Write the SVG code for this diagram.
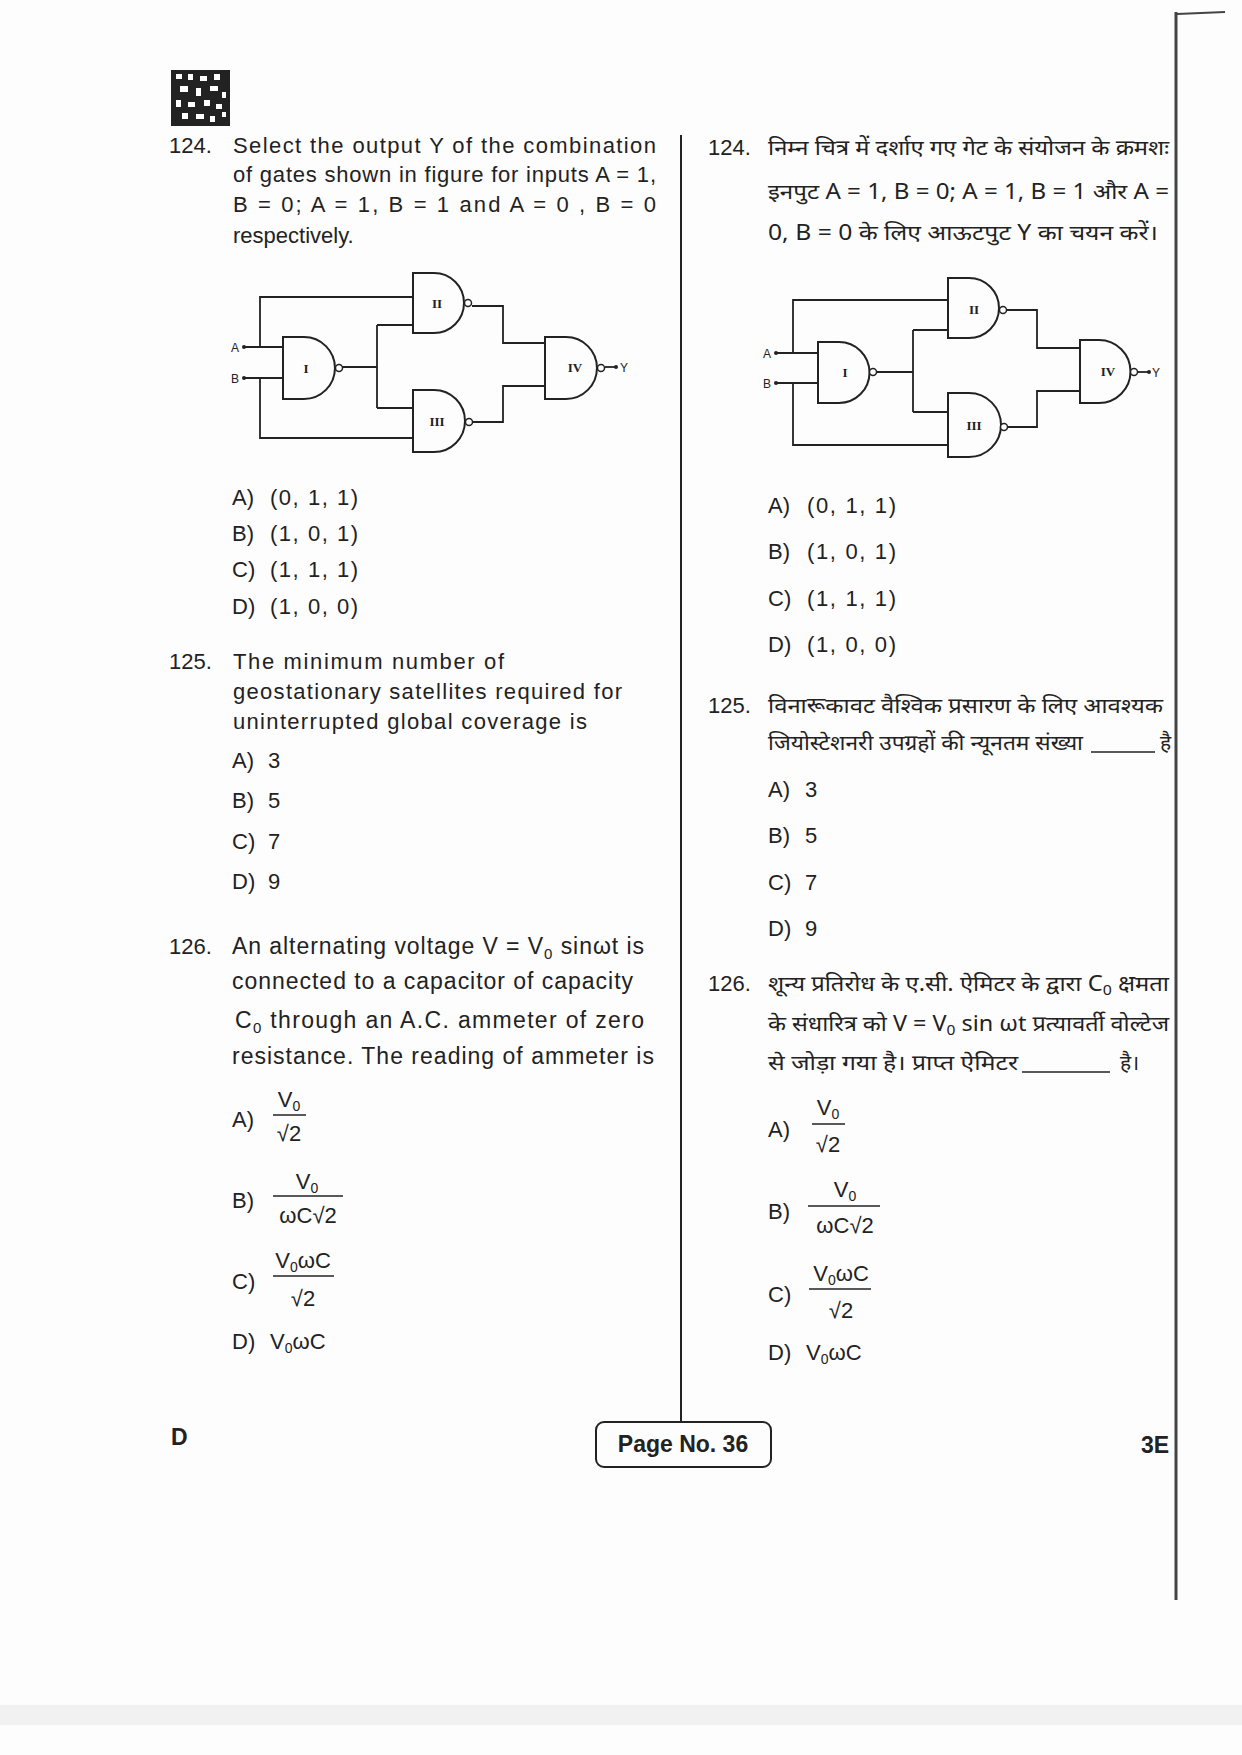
<svg xmlns="http://www.w3.org/2000/svg" width="1242" height="1755" viewBox="0 0 1242 1755">
<style>
text{font-family:"Liberation Sans",Arial,"Noto Sans",sans-serif;fill:#222;font-size:22px}
.hi{font-family:"Noto Sans","Noto Sans Devanagari","Liberation Sans",sans-serif;font-size:21px}
.sm{font-size:12px}
.rn{font-family:"Liberation Serif",serif;font-size:13px;font-weight:bold}
.g{fill:none;stroke:#222;stroke-width:2}
.w{fill:none;stroke:#222;stroke-width:1.8}
.b{fill:#fff;stroke:#222;stroke-width:1.5}
.fl{stroke:#222;stroke-width:1.5}
.bold{font-weight:bold}
</style>
<rect width="1242" height="1755" fill="#fdfdfd"/>
<rect x="0" y="1705" width="1242" height="20" fill="#f1f1f1"/>
<g id="qr" fill="#222">
<rect x="171" y="70" width="59" height="56" fill="#222"/>
<rect x="176" y="74" width="6" height="5" fill="#fff"/><rect x="188" y="74" width="5" height="6" fill="#fff"/><rect x="200" y="76" width="7" height="5" fill="#fff"/><rect x="214" y="74" width="6" height="6" fill="#fff"/>
<rect x="180" y="86" width="8" height="6" fill="#fff"/><rect x="196" y="88" width="5" height="8" fill="#fff"/><rect x="210" y="86" width="8" height="5" fill="#fff"/><rect x="222" y="92" width="4" height="6" fill="#fff"/>
<rect x="176" y="100" width="5" height="7" fill="#fff"/><rect x="188" y="102" width="7" height="5" fill="#fff"/><rect x="204" y="100" width="6" height="6" fill="#fff"/><rect x="216" y="104" width="6" height="5" fill="#fff"/>
<rect x="182" y="113" width="6" height="6" fill="#fff"/><rect x="196" y="114" width="8" height="5" fill="#fff"/><rect x="210" y="116" width="5" height="6" fill="#fff"/><rect x="222" y="112" width="4" height="5" fill="#fff"/>
</g>
<line x1="681" y1="135" x2="681" y2="1422" stroke="#222" stroke-width="2"/>
<line x1="1176" y1="12" x2="1176" y2="1600" stroke="#444" stroke-width="3"/>
<line x1="1177" y1="14" x2="1225" y2="12" stroke="#444" stroke-width="2"/>
<g id="q124-en">
<text x="169" y="153">124.</text>
<text x="233" y="153" textLength="423" lengthAdjust="spacing">Select the output Y of the combination</text>
<text x="233" y="182" textLength="423" lengthAdjust="spacing">of gates shown in figure for inputs A = 1,</text>
<text x="233" y="212" textLength="423" lengthAdjust="spacing">B = 0; A = 1, B = 1 and A = 0 , B = 0</text>
<text x="233" y="243">respectively.</text>
</g>
<g id="gates-left">
<g id="L-wires" class="w">
<path d="M244 347H283M260 347V297H413M244 378H283M260 378V438H413"/>
<path d="M342 367H377M377 325V408M377 325H413M377 408H413"/>
<path d="M472 306H503V343H545M472 422H503V386H545"/>
<path d="M605 367H615"/>
</g>
<circle cx="244" cy="347" r="2" fill="#222"/><circle cx="244" cy="378" r="2" fill="#222"/><circle cx="616" cy="367" r="2" fill="#222"/>
<text class="sm" x="231" y="352">A</text><text class="sm" x="231" y="383">B</text><text class="sm" x="620" y="372">Y</text>
<g id="L-I"><path class="g" d="M283 337H304A31 31 0 0 1 304 399H283Z"/><circle class="b" cx="339" cy="368" r="3.5"/><text class="rn" x="306" y="373" text-anchor="middle">I</text></g>
<g id="L-II"><path class="g" d="M413 273H434A30 30 0 0 1 434 333H413Z"/><circle class="b" cx="468" cy="303" r="3.5"/><text class="rn" x="437" y="308" text-anchor="middle">II</text></g>
<g id="L-III"><path class="g" d="M413 390H434A31 31 0 0 1 434 452H413Z"/><circle class="b" cx="469" cy="422" r="3.5"/><text class="rn" x="437" y="426" text-anchor="middle">III</text></g>
<g id="L-IV"><path class="g" d="M545 337H566A31 31 0 0 1 566 399H545Z"/><circle class="b" cx="601" cy="368" r="3.5"/><text class="rn" x="575" y="372" text-anchor="middle">IV</text></g>
</g>
<g id="opts124-en">
<text x="232" y="505">A)</text><text x="270" y="505" textLength="88" lengthAdjust="spacing">(0, 1, 1)</text>
<text x="232" y="541">B)</text><text x="270" y="541" textLength="88" lengthAdjust="spacing">(1, 0, 1)</text>
<text x="232" y="577">C)</text><text x="270" y="577" textLength="88" lengthAdjust="spacing">(1, 1, 1)</text>
<text x="232" y="614">D)</text><text x="270" y="614" textLength="88" lengthAdjust="spacing">(1, 0, 0)</text>
</g>
<g id="q125-en">
<text x="169" y="669">125.</text>
<text x="233" y="669" textLength="271" lengthAdjust="spacing">The minimum number of</text>
<text x="233" y="699" textLength="389" lengthAdjust="spacing">geostationary satellites required for</text>
<text x="233" y="729" textLength="354" lengthAdjust="spacing">uninterrupted global coverage is</text>
<text x="232" y="768">A)</text><text x="268" y="768">3</text>
<text x="232" y="808">B)</text><text x="268" y="808">5</text>
<text x="232" y="849">C)</text><text x="268" y="849">7</text>
<text x="232" y="889">D)</text><text x="268" y="889">9</text>
</g>
<g id="q126-en">
<text x="169" y="954">126.</text>
<text x="232" y="954" style="font-size:23px" textLength="412" lengthAdjust="spacing">An alternating voltage  V = V<tspan font-size="15" dy="5">0</tspan><tspan dy="-5"> sin</tspan>ωt  is</text>
<text x="232" y="989" style="font-size:23px" textLength="401" lengthAdjust="spacing">connected to a capacitor of capacity</text>
<text x="235" y="1028" style="font-size:23px" textLength="409" lengthAdjust="spacing">C<tspan font-size="15" dy="5">0</tspan><tspan dy="-5"> through an A.C. ammeter of zero</tspan></text>
<text x="232" y="1064" style="font-size:23px" textLength="422" lengthAdjust="spacing">resistance. The reading of ammeter is</text>
</g>
<g id="opts126-en">
<text x="232" y="1127">A)</text>
<text x="289" y="1107" text-anchor="middle">V<tspan font-size="14" dy="4">0</tspan></text>
<line class="fl" x1="273" y1="1115" x2="306" y2="1115"/>
<text x="289" y="1141" text-anchor="middle">√2</text>
<text x="232" y="1208">B)</text>
<text x="307" y="1189" text-anchor="middle">V<tspan font-size="14" dy="4">0</tspan></text>
<line class="fl" x1="273" y1="1196" x2="343" y2="1196"/>
<text x="308" y="1223" text-anchor="middle">ωC√2</text>
<text x="232" y="1289">C)</text>
<text x="303" y="1268" text-anchor="middle">V<tspan font-size="14" dy="4">0</tspan><tspan dy="-4">ωC</tspan></text>
<line class="fl" x1="273" y1="1276" x2="334" y2="1276"/>
<text x="303" y="1306" text-anchor="middle">√2</text>
<text x="232" y="1349">D)</text><text x="270" y="1349">V<tspan font-size="14" dy="4">0</tspan><tspan dy="-4">ωC</tspan></text>
</g>
<g id="q124-hi">
<text x="708" y="155">124.</text>
<text class="hi" x="768" y="155" textLength="401" lengthAdjust="spacingAndGlyphs">निम्न चित्र में दर्शाए गए गेट के संयोजन के क्रमशः</text>
<text class="hi" x="768" y="199" textLength="401" lengthAdjust="spacingAndGlyphs">इनपुट A = 1, B = 0; A = 1, B = 1 और A =</text>
<text class="hi" x="768" y="240" textLength="390" lengthAdjust="spacingAndGlyphs">0, B = 0 के लिए आऊटपुट Y का चयन करें।</text>
</g>
<g id="gates-right">
<g id="R-wires" class="w">
<path d="M776 353H818M793 353V300H948M776 383H818M793 383V445H948"/>
<path d="M877 372H913M913 330V412M913 330H948M913 412H948"/>
<path d="M1007 310H1037V348H1080M1008 427H1037V391H1080"/>
<path d="M1138 372H1148"/>
</g>
<circle cx="776" cy="353" r="2" fill="#222"/><circle cx="776" cy="383" r="2" fill="#222"/><circle cx="1149" cy="372" r="2" fill="#222"/>
<text class="sm" x="763" y="358">A</text><text class="sm" x="763" y="388">B</text><text class="sm" x="1152" y="377">Y</text>
<g id="R-I"><path class="g" d="M818 342H839A30.5 30.5 0 0 1 839 403H818Z"/><circle class="b" cx="873" cy="372" r="3.5"/><text class="rn" x="845" y="377" text-anchor="middle">I</text></g>
<g id="R-II"><path class="g" d="M948 278H969A30 30 0 0 1 969 338H948Z"/><circle class="b" cx="1003" cy="310" r="3.5"/><text class="rn" x="974" y="314" text-anchor="middle">II</text></g>
<g id="R-III"><path class="g" d="M948 393H969A32 32 0 0 1 969 457H948Z"/><circle class="b" cx="1004" cy="427" r="3.5"/><text class="rn" x="974" y="430" text-anchor="middle">III</text></g>
<g id="R-IV"><path class="g" d="M1080 340H1099A31.5 31.5 0 0 1 1099 403H1080Z"/><circle class="b" cx="1134" cy="372" r="3.5"/><text class="rn" x="1108" y="376" text-anchor="middle">IV</text></g>
</g>
<g id="opts124-hi">
<text x="768" y="513">A)</text><text x="807" y="513" textLength="89" lengthAdjust="spacing">(0, 1, 1)</text>
<text x="768" y="559">B)</text><text x="807" y="559" textLength="89" lengthAdjust="spacing">(1, 0, 1)</text>
<text x="768" y="606">C)</text><text x="807" y="606" textLength="89" lengthAdjust="spacing">(1, 1, 1)</text>
<text x="768" y="652">D)</text><text x="807" y="652" textLength="89" lengthAdjust="spacing">(1, 0, 0)</text>
</g>
<g id="q125-hi">
<text x="708" y="713">125.</text>
<text class="hi" x="768" y="713" textLength="395" lengthAdjust="spacingAndGlyphs">विनारूकावट वैश्विक प्रसारण के लिए आवश्यक</text>
<text class="hi" x="768" y="750" textLength="315" lengthAdjust="spacingAndGlyphs">जियोस्टेशनरी उपग्रहों की न्यूनतम संख्या</text>
<line x1="1091" y1="752" x2="1155" y2="752" stroke="#222" stroke-width="1.5"/>
<text class="hi" x="1160" y="750">है</text>
<text x="768" y="797">A)</text><text x="805" y="797">3</text>
<text x="768" y="843">B)</text><text x="805" y="843">5</text>
<text x="768" y="890">C)</text><text x="805" y="890">7</text>
<text x="768" y="936">D)</text><text x="805" y="936">9</text>
</g>
<g id="q126-hi">
<text x="708" y="991">126.</text>
<text class="hi" x="768" y="991" textLength="401" lengthAdjust="spacingAndGlyphs">शून्य प्रतिरोध के ए.सी. ऐमिटर के द्वारा C<tspan font-size="14" dy="4">0</tspan><tspan dy="-4"> क्षमता</tspan></text>
<text class="hi" x="768" y="1031" textLength="401" lengthAdjust="spacingAndGlyphs">के संधारित्र को V = V<tspan font-size="14" dy="4">0</tspan><tspan dy="-4"> sin ωt प्रत्यावर्ती वोल्टेज</tspan></text>
<text class="hi" x="768" y="1070" textLength="250" lengthAdjust="spacingAndGlyphs">से जोड़ा गया है। प्राप्त ऐमिटर</text>
<line x1="1022" y1="1072" x2="1110" y2="1072" stroke="#222" stroke-width="1.5"/>
<text class="hi" x="1120" y="1070">है।</text>
</g>
<g id="opts126-hi">
<text x="768" y="1137">A)</text>
<text x="828" y="1115" text-anchor="middle">V<tspan font-size="14" dy="4">0</tspan></text>
<line class="fl" x1="812" y1="1124" x2="845" y2="1124"/>
<text x="828" y="1152" text-anchor="middle">√2</text>
<text x="768" y="1219">B)</text>
<text x="845" y="1197" text-anchor="middle">V<tspan font-size="14" dy="4">0</tspan></text>
<line class="fl" x1="808" y1="1206" x2="880" y2="1206"/>
<text x="845" y="1233" text-anchor="middle">ωC√2</text>
<text x="768" y="1302">C)</text>
<text x="841" y="1281" text-anchor="middle">V<tspan font-size="14" dy="4">0</tspan><tspan dy="-4">ωC</tspan></text>
<line class="fl" x1="809" y1="1289" x2="871" y2="1289"/>
<text x="841" y="1318" text-anchor="middle">√2</text>
<text x="768" y="1360">D)</text><text x="806" y="1360">V<tspan font-size="14" dy="4">0</tspan><tspan dy="-4">ωC</tspan></text>
</g>
<g id="footer">
<text x="171" y="1445" class="bold" style="font-size:23px">D</text>
<rect x="596" y="1422" width="175" height="45" rx="8" fill="none" stroke="#222" stroke-width="2"/>
<text x="683" y="1452" class="bold" text-anchor="middle" style="font-size:23px">Page No. 36</text>
<text x="1141" y="1453" class="bold" style="font-size:23px">3E</text>
</g>
</svg>
